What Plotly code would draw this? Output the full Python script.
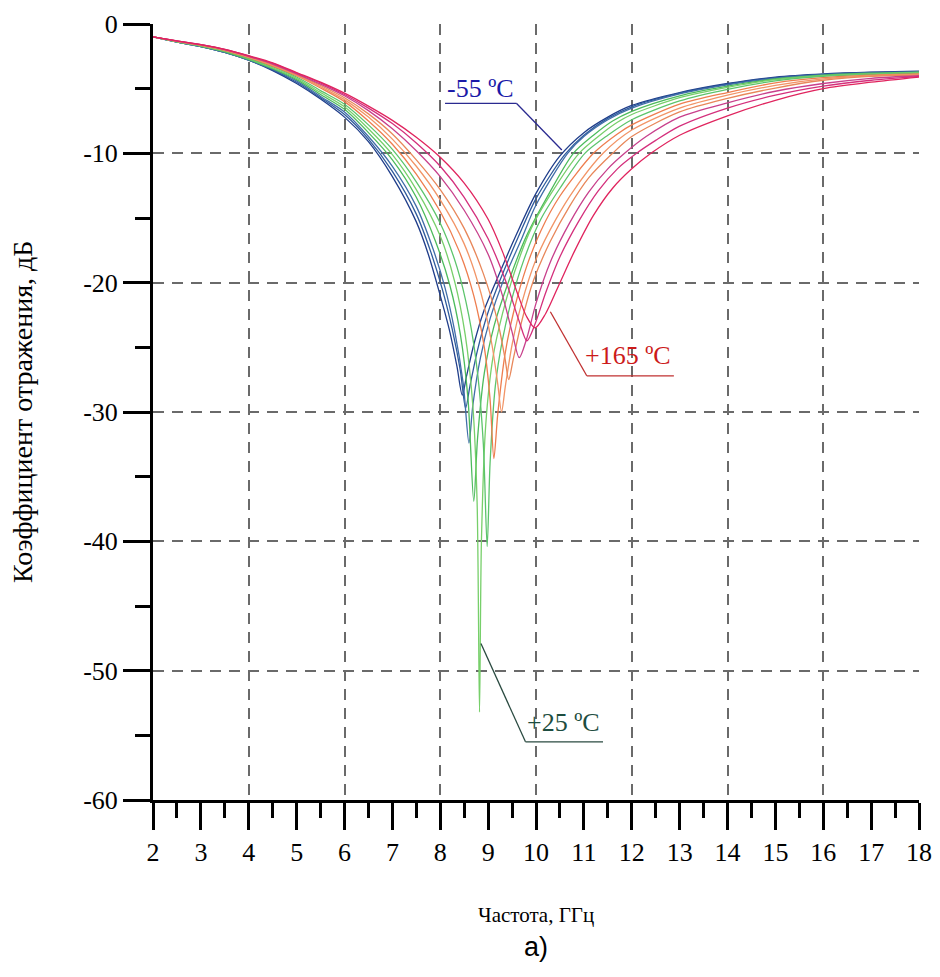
import plotly.graph_objects as go

# Temperatures (ºC) and line colours
temps = [-55, -35, -15, 5, 25, 45, 65, 85, 105, 125, 145, 165]
colors = ['#1f3d8a', '#2e5a9c', '#406ea8',
          '#4cbb5c', '#77cf6a', '#5cc46b',
          '#ee7d4e', '#f29466', '#e8875a',
          '#c8408c', '#d42f7c', '#e0245e']

# Frequency (GHz) and reflection coefficient (dB)
f_m55 = [2, 2.5, 3, 3.5, 4, 4.5, 5, 5.5, 6, 6.5, 7, 7.5, 7.75, 8.0, 8.2, 8.35, 8.46, 8.55, 8.7, 8.9, 9.2, 9.6, 10.0, 10.5, 11, 11.5, 12, 13, 14, 15, 16, 17, 18]
s_m55 = [-1.0, -1.4, -1.75, -2.2, -2.8, -3.6, -4.6, -5.8, -7.2, -9.1, -11.8, -15.3, -17.8, -21.0, -23.8, -26.5, -28.7, -27.2, -24.8, -22.3, -19.6, -16.2, -13.1, -10.2, -8.4, -7.2, -6.3, -5.3, -4.6, -4.1, -3.85, -3.72, -3.65]

f_m35 = [2, 2.5, 3, 3.5, 4, 4.5, 5, 5.5, 6, 6.5, 7, 7.5, 7.8, 8.05, 8.25, 8.42, 8.53, 8.62, 8.78, 8.98, 9.25, 9.65, 10.0, 10.6, 11, 11.5, 12, 13, 14, 15, 16, 17, 18]
s_m35 = [-1.0, -1.4, -1.75, -2.2, -2.8, -3.55, -4.5, -5.7, -7.0, -8.9, -11.4, -14.7, -17.6, -20.6, -23.6, -26.8, -29.7, -28.0, -25.2, -22.5, -19.8, -16.3, -13.5, -10.1, -8.6, -7.3, -6.4, -5.35, -4.65, -4.15, -3.9, -3.75, -3.68]

f_m15 = [2, 2.5, 3, 3.5, 4, 4.5, 5, 5.5, 6, 6.5, 7, 7.5, 7.85, 8.1, 8.3, 8.48, 8.6, 8.68, 8.84, 9.04, 9.3, 9.7, 10.0, 10.66, 11, 11.5, 12, 13, 14, 15, 16, 17, 18]
s_m15 = [-1.0, -1.4, -1.75, -2.2, -2.8, -3.5, -4.4, -5.6, -6.8, -8.7, -11.0, -14.1, -17.4, -20.4, -23.7, -27.8, -32.4, -29.5, -25.8, -22.8, -20.0, -16.6, -14.0, -10.0, -8.7, -7.4, -6.5, -5.4, -4.7, -4.2, -3.92, -3.78, -3.7]

f_p5 = [2, 2.5, 3, 3.5, 4, 4.5, 5, 5.5, 6, 6.5, 7, 7.5, 7.9, 8.2, 8.42, 8.58, 8.7, 8.78, 8.92, 9.12, 9.4, 9.8, 10.2, 10.78, 11.2, 11.6, 12, 13, 14, 15, 16, 17, 18]
s_p5 = [-1.0, -1.38, -1.72, -2.15, -2.75, -3.45, -4.3, -5.45, -6.6, -8.4, -10.5, -13.4, -16.8, -20.2, -24.0, -29.0, -36.9, -32.0, -27.0, -23.4, -20.2, -16.4, -13.6, -10.0, -8.6, -7.5, -6.75, -5.55, -4.8, -4.25, -3.95, -3.8, -3.72]

f_p25 = [2, 2.5, 3, 3.5, 4, 4.5, 5, 5.5, 6, 6.5, 7, 7.5, 8.0, 8.3, 8.52, 8.68, 8.77, 8.82, 8.86, 8.95, 9.1, 9.3, 9.55, 9.9, 10.3, 10.9, 11.3, 11.7, 12, 13, 14, 15, 16, 17, 18]
s_p25 = [-1.0, -1.38, -1.7, -2.1, -2.7, -3.4, -4.2, -5.3, -6.4, -8.1, -10.1, -12.8, -16.4, -19.9, -24.0, -29.5, -37.0, -53.2, -40.0, -31.0, -25.8, -22.4, -19.2, -15.8, -13.2, -10.0, -8.7, -7.6, -7.0, -5.7, -4.9, -4.3, -4.0, -3.85, -3.75]

f_p45 = [2, 2.5, 3, 3.5, 4, 4.5, 5, 5.5, 6, 6.5, 7, 7.5, 8.0, 8.35, 8.6, 8.78, 8.9, 8.98, 9.04, 9.15, 9.3, 9.5, 9.75, 10.1, 10.5, 11.02, 11.5, 12, 13, 14, 15, 16, 17, 18]
s_p45 = [-1.0, -1.36, -1.68, -2.08, -2.65, -3.3, -4.1, -5.15, -6.2, -7.8, -9.7, -12.2, -15.4, -18.8, -22.6, -27.0, -32.5, -40.4, -34.0, -28.0, -24.4, -21.2, -18.2, -15.1, -12.7, -10.0, -8.6, -7.4, -5.95, -5.05, -4.4, -4.05, -3.9, -3.8]

f_p65 = [2, 2.5, 3, 3.5, 4, 4.5, 5, 5.5, 6, 6.5, 7, 7.5, 8.0, 8.4, 8.7, 8.92, 9.04, 9.12, 9.2, 9.35, 9.55, 9.8, 10.1, 10.5, 11.2, 11.7, 12, 13, 14, 15, 16, 17, 18]
s_p65 = [-1.0, -1.35, -1.66, -2.05, -2.6, -3.25, -4.0, -4.95, -6.0, -7.5, -9.3, -11.6, -14.5, -17.6, -21.0, -25.0, -29.0, -33.6, -30.2, -25.6, -22.0, -18.8, -16.0, -13.3, -10.0, -8.5, -7.8, -6.2, -5.3, -4.55, -4.15, -3.95, -3.85]

f_p85 = [2, 2.5, 3, 3.5, 4, 4.5, 5, 5.5, 6, 6.5, 7, 7.5, 8.0, 8.5, 8.85, 9.08, 9.2, 9.28, 9.36, 9.5, 9.7, 10.0, 10.4, 10.8, 11.4, 12, 13, 14, 15, 16, 17, 18]
s_p85 = [-1.0, -1.34, -1.64, -2.02, -2.56, -3.2, -3.95, -4.85, -5.85, -7.2, -8.9, -11.0, -13.6, -17.0, -20.8, -24.8, -27.8, -30.0, -28.0, -24.8, -21.6, -18.2, -15.2, -12.8, -10.0, -8.2, -6.5, -5.5, -4.75, -4.25, -4.0, -3.9]

f_p105 = [2, 2.5, 3, 3.5, 4, 4.5, 5, 5.5, 6, 6.5, 7, 7.5, 8.0, 8.5, 8.9, 9.2, 9.35, 9.43, 9.52, 9.7, 9.95, 10.3, 10.7, 11.1, 11.6, 12, 13, 14, 15, 16, 17, 18]
s_p105 = [-1.0, -1.33, -1.62, -2.0, -2.52, -3.15, -3.9, -4.75, -5.7, -6.95, -8.5, -10.5, -12.8, -15.8, -19.3, -23.0, -25.8, -27.5, -26.0, -23.0, -19.8, -16.8, -14.1, -11.9, -10.0, -8.7, -6.8, -5.75, -4.95, -4.35, -4.05, -3.95]

f_p125 = [2, 2.5, 3, 3.5, 4, 4.5, 5, 5.5, 6, 6.5, 7, 7.5, 8.0, 8.5, 9.0, 9.3, 9.5, 9.65, 9.8, 10.0, 10.3, 10.7, 11.1, 11.5, 11.85, 12.3, 13, 14, 15, 16, 17, 18]
s_p125 = [-1.0, -1.32, -1.6, -1.98, -2.5, -3.1, -3.85, -4.65, -5.55, -6.7, -8.1, -9.8, -11.8, -14.4, -17.8, -21.0, -23.8, -25.8, -24.4, -21.6, -18.4, -15.4, -13.0, -11.2, -10.0, -8.7, -7.2, -6.1, -5.2, -4.6, -4.2, -4.0]

f_p145 = [2, 2.5, 3, 3.5, 4, 4.5, 5, 5.5, 6, 6.5, 7, 7.5, 8.0, 8.5, 9.0, 9.4, 9.65, 9.81, 9.98, 10.2, 10.5, 10.9, 11.3, 11.7, 12.1, 12.5, 13, 14, 15, 16, 17, 18]
s_p145 = [-1.0, -1.31, -1.6, -1.97, -2.48, -3.05, -3.8, -4.55, -5.45, -6.5, -7.7, -9.2, -11.0, -13.4, -16.6, -20.2, -23.0, -24.5, -23.2, -20.8, -18.0, -15.2, -12.9, -11.2, -10.0, -9.0, -7.9, -6.5, -5.5, -4.8, -4.35, -4.05]

f_p165 = [2, 2.5, 3, 3.5, 4, 4.5, 5, 5.5, 6, 6.5, 7, 7.5, 8.0, 8.5, 9.0, 9.3, 9.6, 9.8, 9.98, 10.2, 10.5, 10.8, 11.2, 11.6, 12.0, 12.4, 13, 14, 15, 16, 17, 18]
s_p165 = [-1.0, -1.3, -1.6, -1.96, -2.45, -3.0, -3.75, -4.5, -5.35, -6.35, -7.45, -8.75, -10.3, -12.3, -15.1, -17.6, -20.7, -22.6, -23.5, -22.4, -20.0, -17.6, -14.8, -12.7, -11.2, -10.0, -8.6, -7.1, -5.9, -5.0, -4.5, -4.1]

freqs = [f_m55, f_m35, f_m15, f_p5, f_p25, f_p45, f_p65, f_p85, f_p105, f_p125, f_p145, f_p165]
s11 = [s_m55, s_m35, s_m15, s_p5, s_p25, s_p45, s_p65, s_p85, s_p105, s_p125, s_p145, s_p165]

x_ticks = list(range(2, 19))
y_ticks = [0, -10, -20, -30, -40, -50, -60]

serif = "Liberation Serif, Times New Roman, serif"

fig = go.Figure()
for t, c, fx, fy in zip(temps, colors, freqs, s11):
    fig.add_trace(go.Scatter(x=fx, y=fy, mode='lines', name=f'{t} ºC',
                             line=dict(color=c, width=1.3, shape='spline', smoothing=0.8),
                             showlegend=False, hoverinfo='skip'))

# dummy trace for the 2-GHz grid axis
fig.add_trace(go.Scatter(x=[2, 18], y=[None, None], xaxis='x2', mode='lines',
                         showlegend=False, hoverinfo='skip'))

grid = dict(gridcolor='#6a6a6a', gridwidth=1.5, griddash='11px,8px')

fig.update_layout(
    width=924, height=961,
    margin=dict(l=145, r=13, t=16, b=169),
    paper_bgcolor='white', plot_bgcolor='white',
    font=dict(family=serif, size=26, color='black'),
    xaxis=dict(range=[2, 18], tickvals=x_ticks, ticktext=[str(v) for v in x_ticks],
               showgrid=False, zeroline=False, automargin=False, ticklabeloverflow='allow',
               showline=True, linecolor='black', linewidth=3,
               ticks='outside', ticklen=27, tickwidth=3, tickcolor='black',
               minor=dict(dtick=0.5, tick0=2, ticks='outside', ticklen=15, tickwidth=3,
                          tickcolor='black', showgrid=False),
               tickfont=dict(family=serif, size=26)),
    xaxis2=dict(range=[2, 18], overlaying='x', matches='x', dtick=2, tick0=2,
                showticklabels=False, ticks='', showline=False, zeroline=False,
                automargin=False, showgrid=True, **grid),
    yaxis=dict(range=[-60, 0], tickvals=y_ticks, ticktext=[str(v) for v in y_ticks],
               showgrid=True, **grid, zeroline=False, automargin=False,
               ticklabeloverflow='allow',
               showline=True, linecolor='black', linewidth=3,
               ticks='outside', ticklen=27, tickwidth=3, tickcolor='black',
               minor=dict(dtick=5, ticks='outside', ticklen=15, tickwidth=3,
                          tickcolor='black', showgrid=False),
               tickfont=dict(family=serif, size=26)),
)

# Axis titles and caption
fig.add_annotation(text='Частота, ГГц', xref='paper', yref='paper', x=0.5, y=0,
                   yshift=-115, yanchor='middle', showarrow=False,
                   font=dict(family=serif, size=21))
fig.add_annotation(text='Коэффициент отражения, дБ', xref='paper', yref='paper', x=0, y=0.5,
                   xshift=-131, xanchor='center', yanchor='middle', textangle=-90,
                   showarrow=False, font=dict(family=serif, size=28))
fig.add_annotation(text='а)', xref='paper', yref='paper', x=0.5, y=0,
                   yshift=-147, yanchor='middle', showarrow=False,
                   font=dict(family='Liberation Sans, Arial, sans-serif', size=27))

# Temperature labels with leader lines
labels = [
    dict(text='-55 ºC', color='#1a1aa8', line='#2a2a90',
         tx=8.84, ty=-4.95, pts=[(10.54, -9.74), (9.59, -6.13), (8.10, -6.13)]),
    dict(text='+165 ºC', color='#cc1a1a', line='#c03030',
         tx=11.93, ty=-25.6, pts=[(10.30, -22.25), (11.06, -27.2), (12.88, -27.2)]),
    dict(text='+25 ºC', color='#1d4d40', line='#2a4a40',
         tx=10.57, ty=-54.0, pts=[(8.85, -47.9), (9.78, -55.5), (11.40, -55.5)]),
]
for lab in labels:
    fig.add_annotation(text=lab['text'], x=lab['tx'], y=lab['ty'], showarrow=False,
                       font=dict(family=serif, size=26, color=lab['color']))
    p = lab['pts']
    for (x0, y0), (x1, y1) in zip(p[:-1], p[1:]):
        fig.add_shape(type='line', x0=x0, y0=y0, x1=x1, y1=y1, xref='x', yref='y',
                      line=dict(color=lab['line'], width=1.3))

fig.write_html('out.html')
